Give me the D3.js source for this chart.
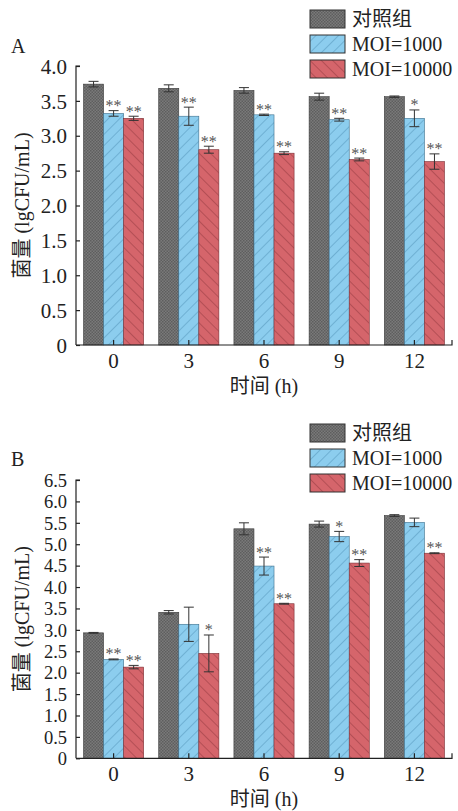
<!DOCTYPE html>
<html><head><meta charset="utf-8">
<script src="https://cdn.jsdelivr.net/npm/d3@7"></script>
<style>
html,body{margin:0;padding:0;background:#fff;}
svg{display:block;}
text{font-family:"Liberation Serif","Times New Roman","Noto Sans CJK SC",serif;}
</style></head>
<body>
<svg id="chart" width="458" height="811"></svg>
<script>
// ---------- data ----------
const categories = ["0", "3", "6", "9", "12"];
const seriesNames = ["对照组", "MOI=1000", "MOI=10000"];

// Panel A
const aControl   = [3.74, 3.68, 3.65, 3.56, 3.56];
const aMoi1000   = [3.32, 3.28, 3.30, 3.23, 3.25];
const aMoi10000  = [3.25, 2.80, 2.75, 2.66, 2.63];
const aControlErr  = [0.04, 0.05, 0.04, 0.05, 0.01];
const aMoi1000Err  = [0.04, 0.13, 0.01, 0.02, 0.12];
const aMoi10000Err = [0.03, 0.05, 0.02, 0.02, 0.11];
const aControlSig  = ["", "", "", "", ""];
const aMoi1000Sig  = ["**", "**", "**", "**", "*"];
const aMoi10000Sig = ["**", "**", "**", "**", "**"];
const aTicks = [0, 0.5, 1.0, 1.5, 2.0, 2.5, 3.0, 3.5, 4.0];

// Panel B
const bControl   = [2.93, 3.41, 5.36, 5.47, 5.67];
const bMoi1000   = [2.31, 3.13, 4.49, 5.18, 5.51];
const bMoi10000  = [2.13, 2.45, 3.61, 4.56, 4.79];
const bControlErr  = [0.01, 0.04, 0.14, 0.07, 0.02];
const bMoi1000Err  = [0.01, 0.40, 0.21, 0.12, 0.10];
const bMoi10000Err = [0.04, 0.43, 0.01, 0.08, 0.01];
const bControlSig  = ["", "", "", "", ""];
const bMoi1000Sig  = ["**", "", "**", "*", ""];
const bMoi10000Sig = ["**", "*", "**", "**", "**"];
const bTicks = [0, 0.5, 1.0, 1.5, 2.0, 2.5, 3.0, 3.5, 4.0, 4.5, 5.0, 5.5, 6.0, 6.5];

const yTitle = "菌量 (lgCFU/mL)";
const xTitle = "时间 (h)";

// ---------- drawing ----------
const svg = d3.select("#chart");
const defs = svg.append("defs");

// control: fine checker texture
const pc = defs.append("pattern").attr("id", "pControl").attr("patternUnits", "userSpaceOnUse")
  .attr("width", 3).attr("height", 3);
pc.append("rect").attr("width", 3).attr("height", 3).attr("fill", "#7a7a7a");
pc.append("rect").attr("width", 1.5).attr("height", 1.5).attr("fill", "#5e5e5e");
pc.append("rect").attr("x", 1.5).attr("y", 1.5).attr("width", 1.5).attr("height", 1.5).attr("fill", "#5e5e5e");

// blue: "/" hatch
const pb = defs.append("pattern").attr("id", "pBlue").attr("patternUnits", "userSpaceOnUse")
  .attr("width", 8).attr("height", 8).attr("patternTransform", "rotate(45)");
pb.append("rect").attr("width", 8).attr("height", 8).attr("fill", "#8ccdee");
pb.append("line").attr("x1", 0).attr("y1", 0).attr("x2", 0).attr("y2", 8)
  .attr("stroke", "#5c9dc2").attr("stroke-width", 1.2);

// red: "\" hatch
const pr = defs.append("pattern").attr("id", "pRed").attr("patternUnits", "userSpaceOnUse")
  .attr("width", 8).attr("height", 8).attr("patternTransform", "rotate(-45)");
pr.append("rect").attr("width", 8).attr("height", 8).attr("fill", "#d5656b");
pr.append("line").attr("x1", 0).attr("y1", 0).attr("x2", 0).attr("y2", 8)
  .attr("stroke", "#9c3f46").attr("stroke-width", 1.2);

const fills = ["url(#pControl)", "url(#pBlue)", "url(#pRed)"];
const strokes = ["#3a3a3a", "#3d6f8c", "#7a2f35"];

function drawPanel(cfg) {
  const g = svg.append("g");
  const x = d3.scaleBand().domain(categories).range([cfg.left, cfg.right])
    .paddingInner(0.2).paddingOuter(0.1);
  const xs = d3.scaleBand().domain(seriesNames).range([0, x.bandwidth()]);
  const y = d3.scaleLinear().domain([0, cfg.ymax]).range([cfg.bottom, cfg.top]);

  const rows = [];
  cfg.series.forEach((vals, si) => {
    vals.forEach((v, ci) => {
      rows.push({ s: seriesNames[si], si, c: categories[ci], v, e: cfg.errs[si][ci], sig: cfg.sigs[si][ci] });
    });
  });

  // bars
  g.selectAll("rect.bar").data(rows).join("rect").attr("class", "bar")
    .attr("x", d => x(d.c) + xs(d.s))
    .attr("y", d => y(d.v))
    .attr("width", xs.bandwidth())
    .attr("height", d => y(0) - y(d.v))
    .attr("fill", d => fills[d.si])
    .attr("stroke", d => strokes[d.si])
    .attr("stroke-width", 0.6);

  // error bars
  const cx = d => x(d.c) + xs(d.s) + xs.bandwidth() / 2;
  const eg = g.append("g").attr("stroke", "#333").attr("stroke-width", 1);
  eg.selectAll("line.ev").data(rows).join("line").attr("class", "ev")
    .attr("x1", cx).attr("x2", cx)
    .attr("y1", d => y(d.v + d.e)).attr("y2", d => y(d.v - d.e));
  eg.selectAll("line.et").data(rows).join("line").attr("class", "et")
    .attr("x1", d => cx(d) - 5).attr("x2", d => cx(d) + 5)
    .attr("y1", d => y(d.v + d.e)).attr("y2", d => y(d.v + d.e));
  eg.selectAll("line.eb").data(rows).join("line").attr("class", "eb")
    .attr("x1", d => cx(d) - 5).attr("x2", d => cx(d) + 5)
    .attr("y1", d => y(d.v - d.e)).attr("y2", d => y(d.v - d.e));

  // significance stars
  g.selectAll("text.sig").data(rows.filter(d => d.sig)).join("text").attr("class", "sig")
    .attr("x", cx).attr("y", d => y(d.v + d.e) + 0.5)
    .attr("text-anchor", "middle").attr("font-size", 16).attr("fill", "#555")
    .text(d => d.sig);

  // y axis (ticks inward)
  const yAxis = d3.axisRight(y).tickValues(cfg.ticks).tickSize(4)
    .tickFormat(d => d === 0 ? "0" : d3.format(".1f")(d));
  const ya = g.append("g").attr("transform", `translate(${cfg.left},0)`).call(yAxis);
  ya.select(".domain").attr("d", `M4,${cfg.top}H0V${cfg.bottom}`).attr("stroke", "#222").attr("stroke-width", 1.2);
  ya.selectAll(".tick line").attr("stroke", "#222").attr("stroke-width", 1.2);
  ya.selectAll(".tick text").attr("x", -9).attr("dy", "0.34em").attr("text-anchor", "end")
    .attr("font-size", cfg.tickFont).attr("fill", "#222")
    .style("font-family", '"Liberation Serif","Times New Roman",serif');

  // x axis (ticks inward)
  const xAxis = d3.axisTop(x).tickSize(5).tickSizeOuter(0);
  const xa = g.append("g").attr("transform", `translate(0,${cfg.bottom})`).call(xAxis);
  xa.select(".domain").attr("d", `M${cfg.left},0H${cfg.right}V-5`).attr("stroke", "#222").attr("stroke-width", 1.2);
  xa.selectAll(".tick line").attr("stroke", "#222").attr("stroke-width", 1.2);
  xa.selectAll(".tick text").attr("y", 23).attr("dy", 0)
    .attr("font-size", 21).attr("fill", "#222")
    .style("font-family", '"Liberation Serif","Times New Roman",serif');

  // titles
  g.append("text").attr("x", (cfg.left + cfg.right) / 2).attr("y", cfg.bottom + 48)
    .attr("text-anchor", "middle").attr("font-size", 20).attr("fill", "#222").text(xTitle);
  g.append("text").attr("transform", `translate(${29},${(cfg.top + cfg.bottom) / 2}) rotate(-90)`)
    .attr("text-anchor", "middle").attr("font-size", 20).attr("fill", "#222").text(yTitle);

  // panel label
  g.append("text").attr("x", 11).attr("y", cfg.labelY).attr("font-size", 20).attr("fill", "#222").text(cfg.label);

  // legend
  const lg = g.append("g");
  seriesNames.forEach((n, i) => {
    const ly = cfg.legendY + i * 25;
    lg.append("rect").attr("x", 310).attr("y", ly).attr("width", 35).attr("height", 18)
      .attr("fill", fills[i]).attr("stroke", "#333").attr("stroke-width", 1);
    lg.append("text").attr("x", 352).attr("y", ly + 9).attr("dy", "0.36em")
      .attr("font-size", 20).attr("fill", "#222").text(n);
  });
}

drawPanel({
  left: 76, right: 452, top: 66, bottom: 345, ymax: 4.0, ticks: aTicks, tickFont: 21,
  series: [aControl, aMoi1000, aMoi10000],
  errs: [aControlErr, aMoi1000Err, aMoi10000Err],
  sigs: [aControlSig, aMoi1000Sig, aMoi10000Sig],
  label: "A", labelY: 53, legendY: 10
});
drawPanel({
  left: 76, right: 452, top: 480, bottom: 758.3, ymax: 6.5, ticks: bTicks, tickFont: 18.5,
  series: [bControl, bMoi1000, bMoi10000],
  errs: [bControlErr, bMoi1000Err, bMoi10000Err],
  sigs: [bControlSig, bMoi1000Sig, bMoi10000Sig],
  label: "B", labelY: 466, legendY: 424
});
</script>
</body></html>
